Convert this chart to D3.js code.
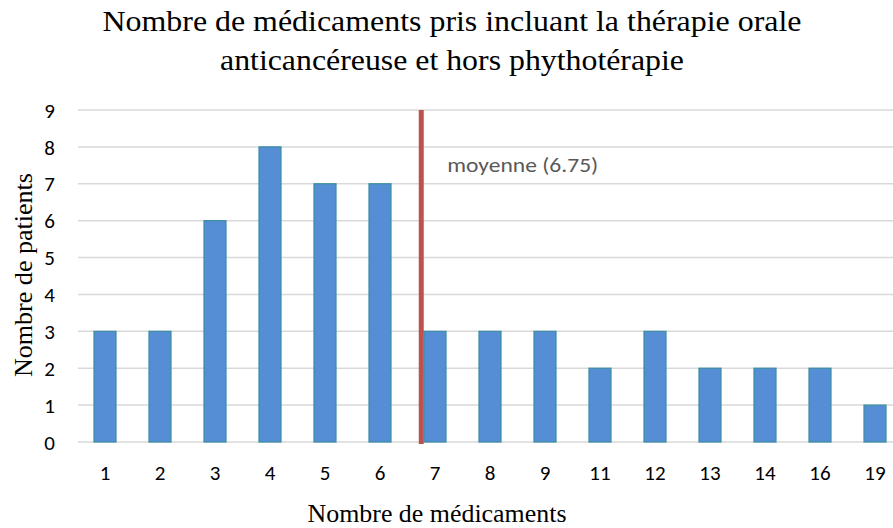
<!DOCTYPE html>
<html>
<head>
<meta charset="utf-8">
<script src="https://cdn.jsdelivr.net/npm/d3@7"></script>
<style>
	body { margin: 0; background: white; }
	svg { display: block; }
</style>
</head>
<body>
<svg id="chart" width="893" height="528"></svg>
<script>
/* Chart data */

var categories = ["1", "2", "3", "4", "5", "6", "7", "8", "9", "11", "12", "13", "14", "16", "19"];
var patients = [3, 3, 6, 8, 7, 7, 3, 3, 3, 2, 3, 2, 2, 2, 1];
var yTicks = [0, 1, 2, 3, 4, 5, 6, 7, 8, 9];
var meanValue = 6.75;
var meanLabel = "moyenne (6.75)";
var titleLines = ["Nombre de médicaments pris incluant la thérapie orale",
	"anticancéreuse et hors phythotérapie"];

/* Drawing */

var serif = "'Liberation Serif', 'Times New Roman', serif";
var sans = "Carlito, Lato, sans-serif";

var svg = d3.select("#chart");

var x = d3.scaleBand().domain(categories).range([77.5, 902.5]).paddingInner(0).paddingOuter(0);
var y = d3.scaleLinear().domain([0, 9]).range([442, 110]);

var barWidth = x.bandwidth() * 0.4;

// Gridlines first so the bars sit on top of them.
svg.append("g").classed("grid", true)
	.selectAll("line").data(yTicks).enter().append("line")
	.attr("x1", 78).attr("x2", 893)
	.attr("y1", function (d) { return y(d); })
	.attr("y2", function (d) { return y(d); })
	.attr("stroke", "#d9d9d9")
	.attr("stroke-width", 1.5);

// Y axis tick labels
var yAxis = d3.axisLeft(y).tickValues(yTicks).tickSize(0).tickPadding(0);
svg.append("g").attr("transform", "translate(55,0)")
	.call(yAxis)
	.call(function (g) {
		g.select(".domain").remove();
		g.selectAll("text")
			.attr("font-family", sans)
			.attr("font-size", 21)
			.attr("fill", "#000")
			.attr("dy", "0.34em");
	});

// X axis tick labels
var xAxis = d3.axisBottom(x).tickSize(0).tickPadding(0);
svg.append("g").attr("transform", "translate(0,466)")
	.call(xAxis)
	.call(function (g) {
		g.select(".domain").remove();
		g.selectAll("text")
			.attr("font-family", sans)
			.attr("font-size", 21)
			.attr("fill", "#000")
			.attr("dy", "0.68em");
	});

// Bars
svg.append("g").classed("bars", true)
	.selectAll("rect").data(patients).enter().append("rect")
	.attr("x", function (d, i) { return x(categories[i]) + (x.bandwidth() - barWidth) / 2; })
	.attr("y", function (d) { return y(d); })
	.attr("width", barWidth)
	.attr("height", function (d) { return y(0) - y(d); })
	.attr("fill", "#558ed5")
	.attr("stroke", "#3a8ca3")
	.attr("stroke-width", 1.2);

// Mean line, placed between categories by its value
var meanIndex = 5; // category "6"
var meanX = x(categories[meanIndex]) + x.bandwidth() / 2 + (meanValue - 6) * x.step();
svg.append("line")
	.attr("x1", meanX).attr("x2", meanX)
	.attr("y1", y(9)).attr("y2", y(0) + 2)
	.attr("stroke", "#c0504d")
	.attr("stroke-width", 5);

// The original label is drawn a bit wider than Calibri, so stretch it.
svg.append("text")
	.attr("x", meanX + 26).attr("y", 172)
	.attr("font-family", sans)
	.attr("font-size", 21)
	.attr("textLength", 151)
	.attr("lengthAdjust", "spacingAndGlyphs")
	.attr("fill", "#595959")
	.text(meanLabel);

// Title (the original is set loosely, so stretch to its measured widths)
var titleWidths = [699, 464];
svg.append("g").selectAll("text").data(titleLines).enter().append("text")
	.attr("x", 452)
	.attr("y", function (d, i) { return 30.5 + i * 39; })
	.attr("text-anchor", "middle")
	.attr("font-family", serif)
	.attr("font-size", 30)
	.attr("textLength", function (d, i) { return titleWidths[i]; })
	.attr("lengthAdjust", "spacingAndGlyphs")
	.attr("fill", "#000")
	.text(function (d) { return d; });

// Axis titles
svg.append("text")
	.attr("transform", "translate(32,275) rotate(-90)")
	.attr("text-anchor", "middle")
	.attr("font-family", serif)
	.attr("font-size", 26)
	.attr("textLength", 204)
	.attr("lengthAdjust", "spacingAndGlyphs")
	.attr("fill", "#000")
	.text("Nombre de patients");

svg.append("text")
	.attr("x", 437).attr("y", 521.5)
	.attr("text-anchor", "middle")
	.attr("font-family", serif)
	.attr("font-size", 26)
	.attr("textLength", 259)
	.attr("lengthAdjust", "spacingAndGlyphs")
	.attr("fill", "#000")
	.text("Nombre de médicaments");
</script>
</body>
</html>
